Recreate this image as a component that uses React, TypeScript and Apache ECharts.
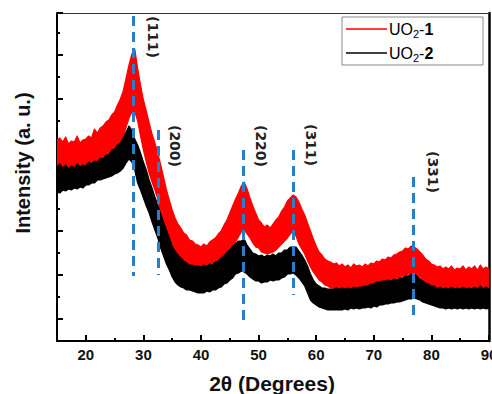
import React, { useEffect, useRef } from "react";
import * as echarts from "echarts";

// 2θ sampling grid (degrees)
const twoTheta = [
  15, 15.5, 16, 16.5, 17, 17.5, 18, 18.5, 19, 19.5,
  20, 20.5, 21, 21.5, 22, 22.5, 23, 23.5, 24, 24.5,
  25, 25.5, 26, 26.5, 27, 27.5, 28, 28.5, 29, 29.5,
  30, 30.5, 31, 31.5, 32, 32.5, 33, 33.5, 34, 34.5,
  35, 35.5, 36, 36.5, 37, 37.5, 38, 38.5, 39, 39.5,
  40, 40.5, 41, 41.5, 42, 42.5, 43, 43.5, 44, 44.5,
  45, 45.5, 46, 46.5, 47, 47.5, 48, 48.5, 49, 49.5,
  50, 50.5, 51, 51.5, 52, 52.5, 53, 53.5, 54, 54.5,
  55, 55.5, 56, 56.5, 57, 57.5, 58, 58.5, 59, 59.5,
  60, 60.5, 61, 61.5, 62, 62.5, 63, 63.5, 64, 64.5,
  65, 65.5, 66, 66.5, 67, 67.5, 68, 68.5, 69, 69.5,
  70, 70.5, 71, 71.5, 72, 72.5, 73, 73.5, 74, 74.5,
  75, 75.5, 76, 76.5, 77, 77.5, 78, 78.5, 79, 79.5,
  80, 80.5, 81, 81.5, 82, 82.5, 83, 83.5, 84, 84.5,
  85, 85.5, 86, 86.5, 87, 87.5, 88, 88.5, 89, 89.5, 90,
];

// UO2-1 (red): upper and lower edge of the noisy trace (a.u.)
const uo2_1_upper = [
  201, 203, 199, 204, 197, 200, 199, 205, 198, 201,
  202, 205, 203, 212, 208, 213, 215, 219, 221, 226,
  229, 236, 242, 250, 263, 276, 287, 292, 273, 256,
  241, 230, 218, 207, 198, 188, 176, 164, 151, 141,
  131, 123, 117, 113, 108, 106, 101, 100, 97, 96,
  94, 97, 95, 99, 101, 103, 107, 110, 116, 121,
  128, 135, 142, 148, 155, 159, 152, 143, 135, 128,
  121, 118, 114, 116, 113, 117, 121, 124, 130, 134,
  140, 143, 146, 144, 139, 132, 126, 118, 110, 102,
  95, 89, 86, 82, 80, 79, 77, 78, 75, 77,
  74, 76, 73, 77, 75, 76, 74, 77, 75, 78,
  77, 80, 79, 82, 81, 84, 83, 86, 87, 89,
  90, 93, 92, 95, 94, 92, 89, 86, 82, 80,
  77, 76, 74, 75, 72, 74, 72, 75, 71, 73,
  72, 75, 71, 74, 72, 75, 71, 76, 72, 74, 72,
];
const uo2_1_lower = [
  158, 156, 157, 155, 156, 155, 157, 156, 159, 158,
  161, 162, 166, 167, 171, 172, 175, 177, 180, 182,
  186, 190, 196, 204, 214, 223, 229, 230, 220, 205,
  191, 179, 168, 159, 151, 142, 129, 119, 109, 101,
  95, 87, 81, 77, 75, 72, 71, 69, 69, 67,
  68, 68, 69, 70, 73, 74, 76, 77, 80, 83,
  88, 93, 99, 104, 109, 111, 107, 103, 98, 94,
  93, 89, 88, 87, 88, 89, 91, 94, 97, 100,
  103, 107, 110, 105, 97, 92, 87, 80, 74, 69,
  65, 61, 59, 56, 55, 53, 53, 52, 51, 51,
  51, 50, 51, 50, 51, 50, 51, 51, 53, 52,
  53, 53, 54, 55, 57, 57, 59, 60, 63, 63,
  65, 65, 67, 67, 68, 66, 64, 60, 58, 55,
  54, 52, 51, 50, 50, 49, 49, 48, 48, 48,
  48, 47, 48, 47, 48, 47, 48, 47, 48, 47, 48,
];

// UO2-2 (black)
const uo2_2_upper = [
  174, 177, 173, 176, 172, 175, 173, 177, 174, 176,
  175, 179, 177, 180, 179, 183, 182, 186, 186, 191,
  192, 196, 198, 203, 209, 215, 211, 202, 196, 188,
  179, 171, 161, 153, 144, 136, 127, 119, 111, 103,
  95, 90, 86, 83, 80, 78, 76, 76, 75, 75,
  74, 76, 75, 77, 76, 79, 80, 83, 85, 89,
  91, 95, 97, 100, 100, 102, 96, 92, 88, 87,
  85, 86, 84, 86, 85, 87, 85, 88, 88, 91,
  91, 94, 94, 94, 90, 86, 81, 75, 67, 61,
  57, 55, 53, 53, 52, 52, 52, 53, 52, 53,
  52, 53, 52, 54, 53, 54, 54, 55, 55, 57,
  57, 59, 59, 60, 60, 61, 60, 62, 61, 63,
  63, 65, 65, 67, 67, 65, 62, 60, 58, 57,
  55, 55, 52, 54, 52, 53, 52, 54, 52, 53,
  52, 54, 52, 53, 52, 54, 52, 55, 52, 54, 52,
];
const uo2_2_lower = [
  149, 148, 151, 150, 152, 151, 153, 152, 154, 153,
  156, 156, 158, 158, 161, 161, 162, 163, 164, 165,
  167, 168, 170, 173, 178, 182, 179, 171, 158, 151,
  143, 135, 128, 119, 111, 103, 93, 85, 77, 71,
  64, 59, 56, 54, 53, 51, 51, 50, 49, 48,
  48, 48, 50, 49, 51, 51, 53, 54, 57, 58,
  61, 63, 67, 68, 70, 69, 67, 64, 62, 60,
  60, 58, 59, 59, 61, 60, 61, 61, 63, 64,
  67, 67, 68, 66, 63, 59, 55, 48, 41, 38,
  36, 34, 33, 32, 31, 31, 31, 31, 31, 31,
  32, 31, 33, 32, 33, 32, 33, 33, 34, 33,
  35, 34, 36, 36, 37, 37, 38, 38, 39, 39,
  40, 41, 42, 42, 43, 42, 41, 39, 38, 37,
  36, 35, 34, 33, 33, 32, 33, 32, 33, 32,
  33, 32, 33, 32, 33, 32, 33, 32, 33, 32, 33,
];

// Reflection markers: label, 2θ, dashed-line top and bottom (a.u.)
const peakLabels = ["(111)", "(200)", "(220)", "(311)", "(331)"];
const peakPositions = [28.2, 32.6, 47.4, 56.0, 76.8];
const peakLineTop = [325, 211, 191, 191, 164];
const peakLineBottom = [65, 66, 21, 46, 20];

const seriesNames = ["UO2-1", "UO2-2"];

const FONT = '"Liberation Sans", Arial, sans-serif';

export default function App() {
  const ref = useRef<HTMLDivElement>(null);

  useEffect(() => {
    if (!ref.current) return;
    const chart = echarts.init(ref.current, undefined, { renderer: "svg" });

    const bandSeries = (name: string, up: number[], lo: number[], color: string, z: number) => ({
      name,
      type: "custom",
      coordinateSystem: "cartesian2d",
      clip: true,
      silent: true,
      z,
      data: twoTheta.map((x, i) => [x, up[i], lo[i]]),
      encode: { x: 0, y: [1, 2] },
      renderItem: (params: any, api: any) => {
        if (params.dataIndex !== 0) return null;
        const pts: number[][] = [];
        for (let i = 0; i < twoTheta.length; i++) pts.push(api.coord([twoTheta[i], up[i]]));
        for (let i = twoTheta.length - 1; i >= 0; i--) pts.push(api.coord([twoTheta[i], lo[i]]));
        return {
          type: "polygon",
          shape: { points: pts },
          style: { fill: color, stroke: color, lineWidth: 1.2, lineJoin: "round" },
        };
      },
    });

    const labelPos = [
      [153, 37],
      [175, 146],
      [261, 146],
      [311, 145],
      [433, 172],
    ];
    const hklGraphics = peakLabels.map((t, i) => ({
      type: "text",
      x: labelPos[i][0],
      y: labelPos[i][1],
      rotation: -Math.PI / 2,
      z: 20,
      style: {
        text: t,
        font: 'bold 14px "DejaVu Sans", sans-serif',
        fill: "#222",
        align: "center",
        verticalAlign: "middle",
        textAlign: "center",
        textVerticalAlign: "middle",
      },
    }));

    const rich = {
      n: { fontSize: 16, fontFamily: FONT, color: "#000", lineHeight: 20 },
      s: { fontSize: 11, fontFamily: FONT, color: "#000", lineHeight: 20, verticalAlign: "bottom" },
      b: { fontSize: 16, fontFamily: FONT, color: "#000", fontWeight: "bold", lineHeight: 20 },
    };

    const legendItem = (y: number, color: string, num: string) => [
      {
        type: "line",
        z: 31,
        shape: { x1: 346, y1: y, x2: 387, y2: y },
        style: { stroke: color, lineWidth: 1.5 },
      },
      {
        type: "text",
        x: 389,
        y,
        z: 31,
        style: {
          text: "{n|UO}{s|2}{n|-}{b|" + num + "}",
          rich,
          align: "left",
          verticalAlign: "middle",
          textAlign: "left",
          textVerticalAlign: "middle",
        },
      },
    ];

    const option: any = {
      animation: false,
      backgroundColor: "#ffffff",
      grid: { left: 57, right: 3, top: 13, bottom: 53, outerBoundsMode: "none", containLabel: false },
      xAxis: [
        {
          type: "value",
          min: 15,
          max: 90,
          interval: 5,
          position: "bottom",
          axisLine: { show: true, onZero: false, lineStyle: { color: "#000", width: 2 } },
          axisTick: { show: true, inside: true, length: 3, lineStyle: { color: "#000", width: 2 } },
          axisLabel: { show: false },
          splitLine: { show: false },
        },
        {
          type: "value",
          min: 15,
          max: 90,
          splitNumber: 8,
          position: "bottom",
          axisLine: { show: false, onZero: false },
          axisTick: { show: true, inside: true, length: 6, lineStyle: { color: "#000", width: 2 } },
          axisLabel: {
            show: true,
            margin: 6,
            color: "#111",
            fontFamily: FONT,
            fontWeight: "bold",
            fontSize: 15,
            formatter: (v: number) => (v % 10 === 0 ? String(v) : ""),
          },
          splitLine: { show: false },
        },
        {
          type: "value",
          min: 15,
          max: 90,
          position: "top",
          axisLine: { show: true, onZero: false, lineStyle: { color: "#333", width: 1.2 } },
          axisTick: { show: false },
          axisLabel: { show: false },
          splitLine: { show: false },
        },
      ],
      yAxis: [
        {
          type: "value",
          min: 0,
          max: 328,
          interval: 22,
          position: "left",
          axisLine: { show: true, onZero: false, lineStyle: { color: "#000", width: 2 } },
          axisTick: { show: true, inside: true, length: 3, lineStyle: { color: "#000", width: 2 } },
          axisLabel: { show: false },
          splitLine: { show: false },
        },
        {
          type: "value",
          min: -5,
          max: 69.545,
          splitNumber: 7,
          position: "left",
          axisLine: { show: false, onZero: false },
          axisTick: { show: true, inside: true, length: 6, lineStyle: { color: "#000", width: 2 } },
          axisLabel: { show: false },
          splitLine: { show: false },
        },
        {
          type: "value",
          min: 0,
          max: 328,
          position: "right",
          axisLine: { show: true, onZero: false, lineStyle: { color: "#000", width: 2.5 } },
          axisTick: { show: false },
          axisLabel: { show: false },
          splitLine: { show: false },
        },
      ],
      series: [
        bandSeries(seriesNames[0], uo2_1_upper, uo2_1_lower, "#ff0000", 2),
        bandSeries(seriesNames[1], uo2_2_upper, uo2_2_lower, "#000000", 3),
        {
          name: "peaks",
          type: "line",
          data: [],
          z: 5,
          silent: true,
          markLine: {
            silent: true,
            symbol: ["none", "none"],
            label: { show: false },
            lineStyle: { color: "#2a7dc9", width: 3, type: [10, 6] },
            data: peakPositions.map((p, i) => [
              { coord: [p, peakLineTop[i]] },
              { coord: [p, peakLineBottom[i]] },
            ]),
          },
        },
      ],
      graphic: [
        ...hklGraphics,
        {
          type: "rect",
          z: 30,
          shape: { x: 342, y: 17, width: 141, height: 48 },
          style: { fill: "#fff", stroke: "#8a8a8a", lineWidth: 1 },
        },
        ...legendItem(29, "#ff0000", "1"),
        ...legendItem(53, "#000000", "2"),
        {
          type: "text",
          x: 23,
          y: 163,
          rotation: Math.PI / 2,
          z: 20,
          style: {
            text: "Intensity (a. u.)",
            font: 'bold 20px "Liberation Sans", Arial, sans-serif',
            fill: "#111",
            align: "center",
            verticalAlign: "middle",
            textAlign: "center",
            textVerticalAlign: "middle",
          },
        },
        {
          type: "text",
          x: 272,
          y: 383,
          z: 20,
          style: {
            text: "2θ (Degrees)",
            font: 'bold 21px "Liberation Sans", Arial, sans-serif',
            fill: "#111",
            align: "center",
            verticalAlign: "middle",
            textAlign: "center",
            textVerticalAlign: "middle",
          },
        },
      ],
    };

    chart.setOption(option);
    return () => chart.dispose();
  }, []);

  return (
    <div
      ref={ref}
      style={{ position: "absolute", left: 0, top: 0, width: 492, height: 394, background: "#fff" }}
    />
  );
}
